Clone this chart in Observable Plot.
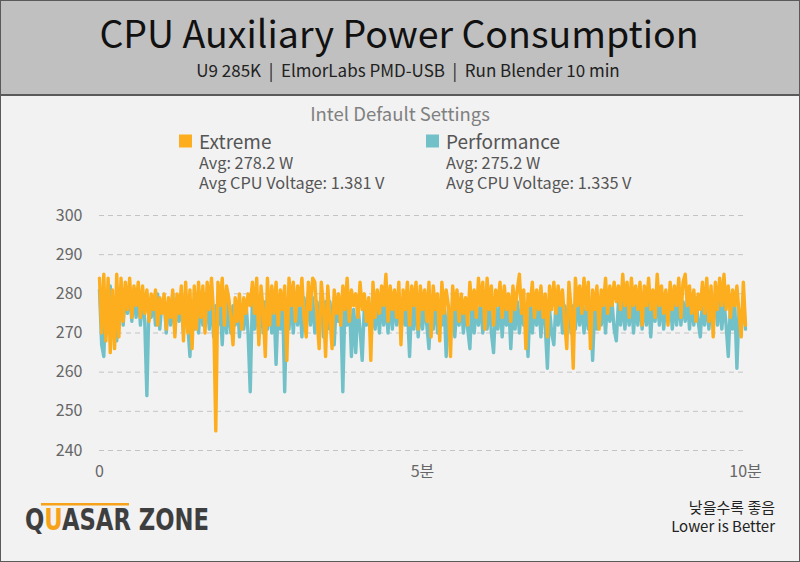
<!DOCTYPE html>
<html>
<head>
<meta charset="utf-8">
<script src="https://cdn.jsdelivr.net/npm/d3@7"></script>
<script src="https://cdn.jsdelivr.net/npm/@observablehq/plot@0.6"></script>
<style>
  html, body { margin: 0; padding: 0; background: #f2f2f2; }
  #wrap { position: relative; width: 800px; height: 562px; background: #f2f2f2; overflow: hidden;
          font-family: "Noto Sans CJK KR", "Noto Sans", sans-serif; }
  #deco { position: absolute; left: 0; top: 0; }
  #plot { position: absolute; left: 0; top: 195px; }
  #deco text { white-space: pre; }
</style>
</head>
<body>
<div id="wrap">
  <svg id="deco" width="800" height="562" xmlns="http://www.w3.org/2000/svg"
       font-family="'Noto Sans CJK KR', 'Noto Sans', sans-serif">
    <defs>
      <linearGradient id="logoFill" gradientUnits="userSpaceOnUse" x1="25" y1="0" x2="209" y2="0">
        <stop offset="0" stop-color="#3e3e3e"/>
        <stop offset="0.103" stop-color="#3e3e3e"/>
        <stop offset="0.103" stop-color="#f7a21b"/>
        <stop offset="0.2" stop-color="#f7a21b"/>
        <stop offset="0.2" stop-color="#3e3e3e"/>
        <stop offset="1" stop-color="#3e3e3e"/>
      </linearGradient>
    </defs>
    <rect x="0" y="0" width="800" height="95" fill="#c0c0c0"/>
    <line x1="0" y1="95" x2="800" y2="95" stroke="#5a5a5a" stroke-width="2"/>
    <rect x="0.5" y="0.5" width="799" height="561" fill="none" stroke="#5a5a5a" stroke-width="1"/>
    <text id="title" x="399" y="48" text-anchor="middle" font-size="37.5" fill="#111"></text>
    <text id="subtitle" x="408" y="77" text-anchor="middle" font-size="17" fill="#222"></text>
    <text id="panel" x="400" y="121" text-anchor="middle" font-size="18.5" fill="#808080"></text>
    <g id="legend"></g>
    <g id="logo">
      <rect x="41" y="503" width="88" height="2.5" fill="#f7a21b"/>
      <text x="25" y="530" font-family="'DejaVu Sans Condensed','DejaVu Sans',sans-serif" font-weight="bold"
            font-size="31" fill="url(#logoFill)" textLength="184" lengthAdjust="spacingAndGlyphs">QUASAR ZONE</text>
    </g>
    <text id="note1" x="775" y="513" text-anchor="end" font-size="15" fill="#222"></text>
    <text id="note2" x="775" y="532" text-anchor="end" font-size="15" fill="#222"></text>
  </svg>
  <div id="plot"></div>
</div>
<script>
// ---------- texts ----------
const titleText = "CPU Auxiliary Power Consumption";
const subtitleText = "U9 285K\u00a0\u00a0|\u00a0\u00a0ElmorLabs PMD-USB\u00a0\u00a0|\u00a0\u00a0Run Blender 10 min";
const panelText = "Intel Default Settings";
const noteKo = "낮을수록 좋음";
const noteEn = "Lower is Better";

// ---------- legend ----------
const seriesNames = ["Extreme", "Performance"];
const seriesColors = ["#fdae1e", "#73c1c8"];
const seriesAvgPower = ["Avg: 278.2 W", "Avg: 275.2 W"];
const seriesAvgVoltage = ["Avg CPU Voltage: 1.381 V", "Avg CPU Voltage: 1.335 V"];

// ---------- axes ----------
const yTicks = [240, 250, 260, 270, 280, 290, 300];
const xTicks = [0, 300, 600];
const xTickLabels = ["0", "5분", "10분"];
const sampleSeconds = 2; // one reading every 2 s over 10 min

// ---------- series (W) ----------
const extreme = [
  284, 270, 285, 268, 284, 265, 281, 266, 285, 269,
  284, 273, 283, 276, 284, 274, 282, 277, 283, 274,
  282, 275, 281, 273, 280, 276, 281, 272, 279, 275,
  280, 271, 279, 274, 281, 269, 280, 275, 282, 268,
  283, 270, 281, 266, 282, 271, 283, 274, 282, 270,
  283, 276, 284, 275, 245, 283, 277, 284, 272, 282,
  279, 274, 267, 279, 273, 280, 271, 279, 275, 280,
  277, 283, 275, 284, 267, 282, 276, 264, 284, 272,
  282, 275, 283, 272, 281, 276, 282, 263, 284, 277,
  283, 273, 282, 277, 284, 274, 269, 283, 276, 284,
  283, 274, 266, 283, 277, 264, 282, 274, 266, 281,
  275, 280, 272, 282, 276, 284, 273, 281, 277, 280,
  274, 283, 276, 280, 273, 279, 263, 283, 274, 281,
  275, 282, 277, 285, 273, 282, 276, 281, 274, 283,
  267, 281, 276, 283, 272, 282, 277, 283, 271, 282,
  276, 281, 273, 283, 269, 282, 276, 280, 268, 283,
  275, 281, 277, 264, 282, 276, 281, 273, 280, 275,
  279, 272, 283, 276, 281, 274, 284, 277, 283, 271,
  284, 276, 282, 272, 281, 277, 283, 274, 282, 276,
  280, 273, 282, 276, 281, 285, 275, 281, 266, 280,
  277, 283, 274, 281, 276, 282, 274, 280, 269, 282,
  276, 283, 275, 282, 277, 281, 273, 266, 283, 276,
  261, 284, 277, 282, 275, 284, 276, 283, 266, 281,
  276, 282, 271, 281, 277, 284, 275, 282, 277, 283,
  278, 282, 276, 285, 277, 283, 274, 284, 277, 282,
  276, 283, 272, 282, 277, 284, 276, 281, 274, 285,
  277, 282, 275, 281, 272, 283, 276, 282, 277, 284,
  274, 283, 285, 277, 282, 275, 281, 273, 280, 276,
  283, 275, 284, 273, 282, 269, 283, 276, 284, 277,
  285, 276, 282, 274, 281, 277, 282, 275, 269, 283,
  272
];
const performance = [
  281, 267, 264, 280, 270, 282, 271, 279, 268, 281,
  282, 272, 281, 275, 282, 273, 280, 274, 281, 272,
  280, 273, 254, 278, 274, 279, 272, 280, 271, 278,
  279, 270, 278, 272, 280, 270, 279, 273, 280, 270,
  279, 272, 264, 278, 271, 280, 270, 279, 272, 280,
  278, 271, 279, 269, 277, 272, 278, 267, 279, 270,
  278, 270, 277, 272, 278, 269, 277, 271, 278, 270,
  255, 279, 271, 278, 269, 279, 270, 278, 271, 279,
  270, 278, 262, 277, 271, 279, 255, 278, 271, 279,
  270, 279, 272, 278, 269, 279, 271, 280, 272, 279,
  270, 278, 272, 279, 269, 278, 271, 278, 272, 267,
  278, 273, 277, 255, 278, 272, 279, 264, 276, 265,
  277, 271, 263, 277, 272, 278, 270, 276, 271, 278,
  270, 279, 272, 278, 270, 280, 271, 278, 272, 279,
  270, 278, 272, 276, 264, 278, 271, 279, 269, 278,
  271, 277, 272, 266, 278, 271, 279, 270, 277, 272,
  278, 264, 276, 271, 278, 269, 277, 272, 278, 270,
  277, 271, 266, 278, 270, 277, 272, 278, 270, 276,
  271, 278, 270, 265, 277, 271, 278, 269, 277, 272,
  278, 266, 277, 271, 278, 270, 277, 272, 276, 264,
  278, 270, 277, 272, 278, 269, 277, 272, 261, 276,
  270, 267, 278, 272, 279, 270, 277, 272, 278, 270,
  277, 271, 279, 272, 278, 270, 277, 271, 278, 263,
  277, 271, 279, 272, 278, 270, 279, 273, 278, 271,
  268, 278, 272, 279, 271, 278, 272, 279, 270, 278,
  272, 279, 271, 278, 272, 279, 269, 278, 273, 279,
  272, 279, 271, 278, 273, 279, 271, 278, 272, 279,
  272, 278, 273, 279, 271, 278, 272, 279, 273, 269,
  278, 272, 279, 271, 278, 273, 279, 272, 278, 271,
  278, 272, 264, 277, 271, 278, 261, 276, 272, 278,
  271
];

// ---------- fill texts ----------
document.getElementById("title").textContent = titleText;
document.getElementById("subtitle").textContent = subtitleText;
document.getElementById("panel").textContent = panelText;
document.getElementById("note1").textContent = noteKo;
document.getElementById("note2").textContent = noteEn;

const legendX = [179, 426];
const lg = d3.select("#legend");
seriesNames.forEach((name, i) => {
  const x = legendX[i];
  lg.append("rect").attr("x", x).attr("y", 134.5).attr("width", 13).attr("height", 13).attr("fill", seriesColors[i]);
  lg.append("text").attr("x", x + 20).attr("y", 148.5).attr("font-size", 19).attr("fill", "#555").text(name);
  lg.append("text").attr("x", x + 20).attr("y", 168.5).attr("font-size", 16.3).attr("fill", "#555").text(seriesAvgPower[i]);
  lg.append("text").attr("x", x + 20).attr("y", 189).attr("font-size", 16.3).attr("fill", "#555").text(seriesAvgVoltage[i]);
});

// ---------- chart ----------
const extRows = extreme.map((v, i) => ({t: i * sampleSeconds, v, s: seriesNames[0]}));
const perfRows = performance.map((v, i) => ({t: i * sampleSeconds, v, s: seriesNames[1]}));

const chart = Plot.plot({
  width: 800,
  height: 290,
  marginLeft: 99,
  marginRight: 55,
  marginTop: 20,
  marginBottom: 35,
  style: {background: "transparent", fontFamily: "'Noto Sans CJK KR', 'Noto Sans', sans-serif", fontSize: "16px", color: "#666"},
  x: {domain: [0, 600], ticks: xTicks, tickFormat: d => xTickLabels[xTicks.indexOf(d)], tickSize: 0, tickPadding: 15, label: null},
  y: {domain: [240, 300], ticks: yTicks, tickSize: 0, tickPadding: 17, label: null},
  marks: [
    Plot.ruleY(yTicks, {stroke: "#c4c4c4", strokeWidth: 1, strokeDasharray: "5,4"}),
    Plot.line(perfRows, {x: "t", y: "v", stroke: seriesColors[1], strokeWidth: 3.4}),
    Plot.line(extRows, {x: "t", y: "v", stroke: seriesColors[0], strokeWidth: 3.4})
  ]
});
document.getElementById("plot").appendChild(chart);
</script>
</body>
</html>
